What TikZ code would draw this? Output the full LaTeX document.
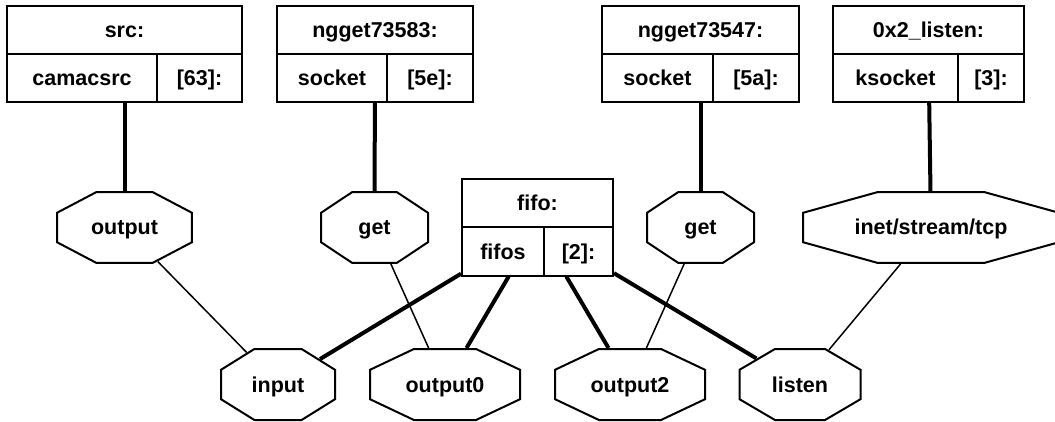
\documentclass[tikz,border=0pt]{standalone}
\usepackage{fontspec}
\setmainfont{Liberation Sans}
\usetikzlibrary{shapes.geometric}
\tikzset{
  recbox/.style={draw, line width=2pt, inner sep=0pt},
  cell/.style={line width=2pt},
  octa/.style={regular polygon, regular polygon sides=8, draw, line width=2pt,
    minimum size=76.85pt, inner sep=0pt, transform shape},
  txt/.style={font=\bfseries\fontsize{21.5}{24}\selectfont, inner sep=0pt,
    text height=15pt, text depth=0pt},
  wire/.style={line width=4pt},
  link/.style={line width=1.5pt}
}
\begin{document}
\begin{tikzpicture}[x=1pt,y=-1pt]
  \useasboundingbox (0,0) rectangle (1055,422);
  % records
  \foreach \n/\x/\y/\w/\d/\ttl/\lft/\rgt in {
      src/124.5/54/235/157/src:/camacsrc/[63]:,
      ng83/375/54/196/387/ngget73583:/socket/[5e]:,
      ng47/700.5/54/197/713/ngget73547:/socket/[5a]:,
      lsn/928.5/54/191/958/0x2\_listen:/ksocket/[3]:,
      fifo/537.5/227.5/151/544/fifo:/fifos/[2]:}
  {
    \node[recbox, minimum width=\w, minimum height=96] (\n) at (\x,\y) {};
    \draw[cell] (\n.west) -- (\n.east) (\d,\y) -- (\d,\y+48);
    \node[txt] (\n-t) at (\x,\y-24) {\ttl};
    \node[txt] (\n-l) at ({(\x-\w/2+\d)/2},\y+24) {\lft};
    \node[txt] (\n-r) at ({(\d+\x+\w/2)/2},\y+24) {\rgt};
  }
  % ports
  \foreach \n/\x/\y/\w/\t in {
      out/124.5/227.5/135/output, get1/374.5/227.5/107/get,
      get2/700.5/227.5/107/get, tcp/931/227.5/256/{inet/stream/tcp},
      inp/278/384.5/114/input, out0/445/384.5/150/output0,
      out2/630/384.5/150/output2, lis/800/384.5/121/listen}
  {
    \node[octa, xscale=\w/71] (\n) at (\x,\y) {};
    \node[txt] (\n-t) at (\x,\y) {\t};
  }
  \draw[wire] (src) -- (out);
  \draw[wire] (ng83) -- (get1);
  \draw[wire] (ng47) -- (get2);
  \draw[wire] (lsn) -- (tcp);
  \draw[wire] (fifo) -- (inp);
  \draw[wire] (fifo) -- (out0);
  \draw[wire] (fifo) -- (out2);
  \draw[wire] (fifo) -- (lis);
  \draw[link] (out) -- (inp);
  \draw[link] (get1) -- (out0);
  \draw[link] (get2) -- (out2);
  \draw[link] (tcp) -- (lis);
\end{tikzpicture}
\end{document}
